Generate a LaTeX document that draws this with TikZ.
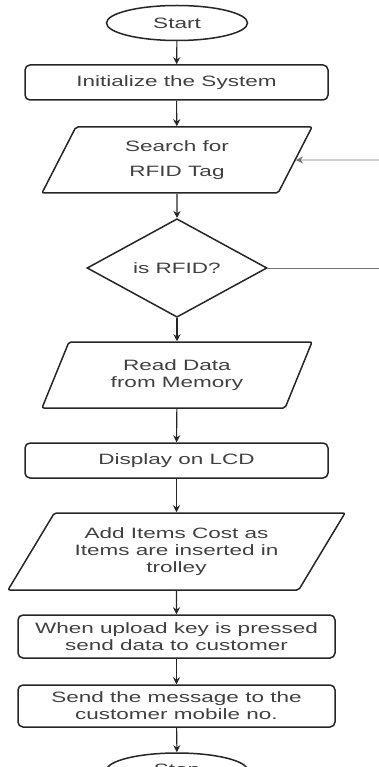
\documentclass[tikz,border=0pt]{standalone}
\usepackage{fontspec}
\setmainfont[FakeStretch=1.5]{Liberation Sans}
\usetikzlibrary{shapes.geometric,arrows.meta}

\tikzset{
  flow/.style={draw=black!85, line width=1.5pt, text=black!75, align=center,
    font=\fontsize{15}{17}\selectfont, inner sep=0pt},
  term/.style={flow, ellipse, minimum width=141pt, minimum height=35pt},
  proc/.style={flow, rectangle, rounded corners=5pt, minimum height=35pt},
  io/.style={flow, trapezium, trapezium stretches body, rounded corners=2pt},
  test/.style={flow, diamond, minimum width=180pt, minimum height=91pt},
}

\begin{document}
\begin{tikzpicture}[x=1pt,y=-1pt]

        \path[use as bounding box, clip] (0,0) rectangle (379,767);

        % flow chart boxes
        \node[term] (start) at (177,23) {Start};
        \node[proc, minimum width=303pt] (init) at (176.5,82.5) {Initialize the System};
        \node[io, trapezium left angle=49, trapezium right angle=131,
          minimum width=270pt, minimum height=66pt] (search) at (177,160)
          {Search for\\[8pt]RFID Tag};
        \node[test] (isrfid) at (177,268) {is RFID?};
        \node[io, trapezium left angle=49, trapezium right angle=131,
          minimum width=270pt, minimum height=66pt] (read) at (177,375)
          {Read Data\\from Memory};
        \node[proc, minimum width=303pt] (lcd) at (176.5,460.5) {Display on LCD};
        \node[io, trapezium left angle=46, trapezium right angle=134,
          minimum width=337pt, minimum height=77pt] (add) at (176.5,551.5)
          {Add Items Cost as\\Items are inserted in\\trolley};
        \node[proc, minimum width=317pt, minimum height=43pt] (upload) at (176.5,636.5)
          {When upload key is pressed\\send data to customer};
        \node[proc, minimum width=317pt, minimum height=42pt] (send) at (176.5,706)
          {Send the message to the\\customer mobile no.};
        \node[term] (stop) at (177,770.5) {Stop};

        % loose ends at the right border
        \coordinate (back) at (379,160);
        \coordinate (no) at (379,268);

        \begin{scope}[every edge/.style={draw=black!85, line width=1.1pt,
            -{Stealth[length=7pt,width=7pt]}}]
          \path (start)  edge (init);
          \path (init)   edge (search);
          \path (search) edge (isrfid);
          \path (isrfid) edge (read);
          \path (read)   edge (lcd);
          \path (lcd)    edge (add);
          \path (add)    edge (upload);
          \path (upload) edge (send);
          \path (send)   edge (stop);
        \end{scope}

        \begin{scope}[every edge/.style={draw=black!55, line width=0.9pt}]
          \path (back)   edge[-{Stealth[length=7pt,width=7pt]}] (search);
          \path (isrfid.east) edge (no);
        \end{scope}

      \end{tikzpicture}
\end{document}
